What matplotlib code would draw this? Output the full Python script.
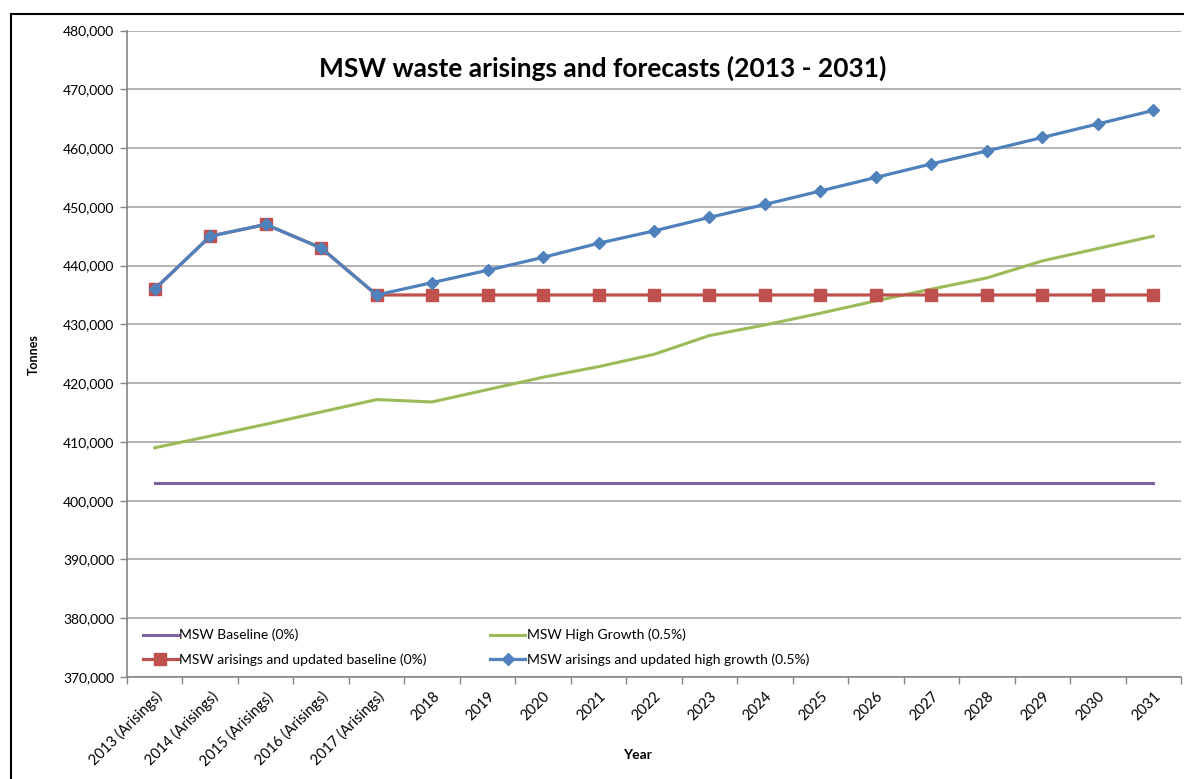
import matplotlib
matplotlib.use("Agg")
import matplotlib.pyplot as plt
from matplotlib.patches import Rectangle
from matplotlib.ticker import FuncFormatter, FixedLocator

categories = ["2013 (Arisings)", "2014 (Arisings)", "2015 (Arisings)", "2016 (Arisings)",
              "2017 (Arisings)", "2018", "2019", "2020", "2021", "2022", "2023", "2024",
              "2025", "2026", "2027", "2028", "2029", "2030", "2031"]

baseline = [403000] * 19
high_growth = [409000, 411000, 413000, 415100, 417200, 416800, 418900, 421000, 422800,
               424900, 428100, 429900, 431900, 434000, 436000, 437900, 440800, 442900, 445000]
updated_baseline = [436000, 445000, 447000, 443000, 435000, 435000, 435000, 435000, 435000,
                    435000, 435000, 435000, 435000, 435000, 435000, 435000, 435000, 435000, 435000]
updated_high = [436000, 445000, 447000, 443000, 435000, 437100, 439200, 441400, 443800,
                445900, 448200, 450400, 452700, 455000, 457300, 459500, 461800, 464100, 466400]

plt.rcParams['font.family'] = ['Lato', 'DejaVu Sans']

W, H = 1184, 779
fig = plt.figure(figsize=(W / 100, H / 100), dpi=100)
AX_L, AX_R, AX_T, AX_B = 127, 1181, 30.5, 677
ax = fig.add_axes([AX_L / W, 1 - AX_B / H, (AX_R - AX_L) / W, (AX_B - AX_T) / H])

x = list(range(len(categories)))
ax.plot(x, baseline, color="#7D60A0", lw=2.2, label="MSW Baseline (0%)", zorder=3)
ax.plot(x, high_growth, color="#9BBB59", lw=2.2, label="MSW High Growth (0.5%)", zorder=3)
ax.plot(x, updated_baseline, color="#C0504D", lw=2.3, marker="s", ms=8,
        label="MSW arisings and updated baseline (0%)", zorder=4)
ax.plot(x, updated_high, color="#4F81BD", lw=2.3, marker="D", ms=6.5,
        label="MSW arisings and updated high growth (0.5%)", zorder=5)

ax.set_xlim(-0.5, len(categories) - 0.5)
ax.set_ylim(370000, 480000)
ax.set_yticks(range(370000, 480001, 10000))
ax.yaxis.set_major_formatter(FuncFormatter(lambda v, p: f"{int(v):,}"))
ax.yaxis.grid(True, color="#A6A6A6", lw=1.2)
ax.set_axisbelow(True)

ax.set_xticks(x)
ax.set_xticklabels(categories, rotation=45, ha="right", rotation_mode="anchor", fontsize=10.5)
ax.tick_params(axis="x", which="major", length=0, pad=9)
ax.xaxis.set_minor_locator(FixedLocator([i - 0.5 for i in range(len(categories) + 1)]))
ax.tick_params(axis="x", which="minor", length=5, color="#868686", width=1)
ax.tick_params(axis="y", length=5, color="#868686", width=1, labelsize=10, pad=4)

for s in ["top", "right"]:
    ax.spines[s].set_visible(False)
for s in ["left", "bottom"]:
    ax.spines[s].set_color("#868686")
    ax.spines[s].set_linewidth(1.2)

ax.set_ylabel("Tonnes", fontsize=9, fontweight="bold")
ax.yaxis.set_label_coords((40 - AX_L) / (AX_R - AX_L), (AX_B - 355) / (AX_B - AX_T))
ax.set_xlabel("Year", fontsize=10, fontweight="bold")
ax.xaxis.set_label_coords((637 - AX_L) / (AX_R - AX_L), (AX_B - 755) / (AX_B - AX_T))
ax.xaxis.label.set_va("center")

fig.text(603 / W, 1 - 68 / H, "MSW waste arisings and forecasts (2013 - 2031)",
         ha="center", va="center", fontsize=19, fontweight="bold")

h, l = ax.get_legend_handles_labels()
order = [0, 2, 1, 3]
leg = ax.legend([h[i] for i in order], [l[i] for i in order], ncol=2,
                loc="upper left", bbox_to_anchor=(136 / W, 1 - 622 / H),
                bbox_transform=fig.transFigure, frameon=False, fontsize=10,
                handlelength=2.5, handletextpad=0.1, columnspacing=4.6,
                labelspacing=0.85, borderpad=0)

fig.patches.append(Rectangle((11 / W, -0.1), 1.2, 1 - 14 / H + 0.1,
                             transform=fig.transFigure, fill=False,
                             edgecolor="black", lw=1.5, zorder=0))

fig.savefig("out.png", dpi=100)
